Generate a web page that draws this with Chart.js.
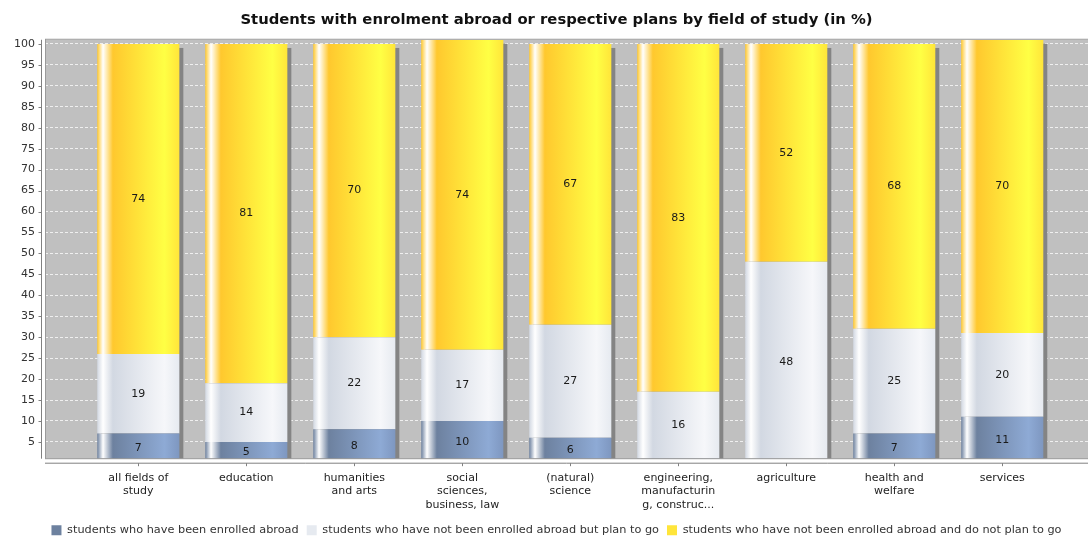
<!DOCTYPE html>
<html><head><meta charset="utf-8">
<script src="https://cdn.jsdelivr.net/npm/chart.js@4/dist/chart.umd.min.js"></script>
<style>html,body{margin:0;padding:0;background:#fff;overflow:hidden}#wrap{width:1088px;height:538px;position:relative}</style>
</head><body><div id="wrap"><canvas id="c"></canvas></div>
<script>
const chartTitle = 'Students with enrolment abroad or respective plans by field of study (in %)';
const categories = [
  ['all fields of','study'],
  ['education'],
  ['humanities','and arts'],
  ['social','sciences,','business, law'],
  ['(natural)','science'],
  ['engineering,','manufacturin','g, construc...'],
  ['agriculture'],
  ['health and','welfare'],
  ['services']
];
const seriesNames = [
  'students who have been enrolled abroad',
  'students who have not been enrolled abroad but plan to go',
  'students who have not been enrolled abroad and do not plan to go'
];
const enrolledAbroad = [7, 5, 8, 10, 6, 1, 0, 7, 11];
const planToGo       = [19, 14, 22, 17, 27, 16, 48, 25, 20];
const noPlanToGo     = [74, 81, 70, 74, 67, 83, 52, 68, 70];
const yTicks = [5,10,15,20,25,30,35,40,45,50,55,60,65,70,75,80,85,90,95,100];

const FONT = 'DejaVu Sans';
const BAR_FRAC = 0.76;
const palette = [
  {base:'#6d819f', bright:'#8eaad5', edge:'#7e97c0'},
  {base:'#d2d8e2', bright:'#f6f7fa', edge:'#e6eaf0'},
  {base:'#ffc82e', bright:'#ffff44', edge:'#ffe53a'}
];

function barGradient(idx){
  return function(ctx){
    const chart = ctx.chart;
    const xs = chart.scales && chart.scales.x;
    if (ctx.type !== 'data' || !xs || !chart.chartArea) return palette[idx].base;
    const cx = xs.getPixelForValue(ctx.dataIndex);
    const w = (xs.getPixelForValue(1) - xs.getPixelForValue(0)) * BAR_FRAC;
    const g = chart.ctx.createLinearGradient(cx - w/2, 0, cx + w/2, 0);
    const p = palette[idx];
    g.addColorStop(0, p.base);
    g.addColorStop(0.07, '#ffffff');
    g.addColorStop(0.19, p.base);
    g.addColorStop(0.82, p.bright);
    g.addColorStop(1, p.edge);
    return g;
  };
}

const seriesData = [enrolledAbroad, planToGo, noPlanToGo];
const datasets = seriesData.map((vals, k) => ({
  label: seriesNames[k],
  data: vals.map((v, i) => ({x: i, y: v})),
  backgroundColor: barGradient(k),
  borderWidth: 0,
  categoryPercentage: BAR_FRAC,
  barPercentage: 1.0
}));

const bgPlugin = {
  id: 'plotBg',
  beforeDraw(chart){
    const {ctx, chartArea: a} = chart;
    ctx.save();
    ctx.fillStyle = '#c0c0c0';
    ctx.fillRect(a.left, a.top, a.right - a.left, a.bottom - a.top);
    ctx.restore();
  }
};

const shadowPlugin = {
  id: 'shadows',
  beforeDatasetsDraw(chart){
    const {ctx, chartArea: a} = chart;
    const metas = chart.data.datasets.map((d, k) => chart.getDatasetMeta(k));
    ctx.save();
    ctx.beginPath();
    ctx.rect(a.left, a.top, a.right - a.left, a.bottom - a.top);
    ctx.clip();
    ctx.fillStyle = '#848484';
    for (let i = 0; i < categories.length; i++) {
      let top = Infinity, base = 0, x = 0, w = 0;
      metas.forEach(m => {
        const el = m.data[i];
        top = Math.min(top, el.y, el.base);
        base = Math.max(base, el.base);
        x = el.x; w = el.width;
      });
      ctx.fillRect(x - w/2 + 4, top + 4, w, base - top);
    }
    ctx.restore();
  }
};

const labelPlugin = {
  id: 'segLabels',
  afterDatasetsDraw(chart){
    const {ctx, chartArea: a} = chart;
    ctx.save();
    ctx.font = '11px "' + FONT + '"';
    ctx.fillStyle = '#1a1a1a';
    ctx.textAlign = 'center';
    ctx.textBaseline = 'middle';
    chart.data.datasets.forEach((d, k) => {
      const m = chart.getDatasetMeta(k);
      m.data.forEach((el, i) => {
        const v = seriesData[k][i];
        if (!v) return;
        const cy = (el.y + el.base) / 2;
        if (cy < a.top || cy > a.bottom) return;
        ctx.fillText(String(v), el.x, cy);
      });
    });
    ctx.restore();
  }
};

const axisPlugin = {
  id: 'axes',
  afterDraw(chart){
    const {ctx, chartArea: a, scales} = chart;
    ctx.save();
    ctx.strokeStyle = '#9a9a9a';
    ctx.lineWidth = 1;
    ctx.strokeRect(a.left + 0.5, a.top - 0.5, a.right - a.left, a.bottom - a.top + 0.5);
    ctx.strokeStyle = '#808080';
    ctx.beginPath();
    const ax = a.left - 3.5;
    ctx.moveTo(ax, a.top); ctx.lineTo(ax, a.bottom);
    yTicks.forEach(t => {
      const y = Math.round(scales.y.getPixelForValue(t)) + 0.5;
      ctx.moveTo(ax - 3, y); ctx.lineTo(ax, y);
    });
    const ay = a.bottom + 4.5;
    ctx.moveTo(a.left, ay); ctx.lineTo(a.right, ay);
    categories.forEach((c, i) => {
      const x = Math.round(scales.x.getPixelForValue(i)) + 0.5;
      ctx.moveTo(x, ay); ctx.lineTo(x, ay + 3);
    });
    ctx.stroke();
    ctx.restore();
  }
};

new Chart(document.getElementById('c'), {
  type: 'bar',
  data: {datasets},
  plugins: [bgPlugin, shadowPlugin, labelPlugin, axisPlugin],
  options: {
    responsive: true,
    maintainAspectRatio: false,
    animation: false,
    layout: {padding: {left: 0, right: -25, top: 0, bottom: -8}},
    plugins: {
      title: {
        display: true, text: chartTitle, color: '#111',
        font: {family: FONT, size: 14.8, weight: 'bold'},
        padding: {top: 11, bottom: 11}
      },
      legend: {
        position: 'bottom',
        labels: {
          boxWidth: 10, boxHeight: 10, padding: 8,
          color: '#333', font: {family: FONT, size: 11.3}
        }
      },
      tooltip: {enabled: false}
    },
    scales: {
      x: {
        type: 'linear', stacked: true, offset: false,
        min: -0.864, max: 8.794,
        afterBuildTicks(s){ s.ticks = categories.map((c, i) => ({value: i})); },
        afterFit(s){ s.height = 58; },
        grid: {display: false, drawTicks: false},
        border: {display: false},
        ticks: {
          autoSkip: false, maxRotation: 0, minRotation: 0, padding: 13,
          color: '#222', font: {family: FONT, size: 11, lineHeight: 1.2},
          callback: (v) => categories[v]
        }
      },
      y: {
        stacked: true, min: 1, max: 101,
        afterBuildTicks(s){ s.ticks = yTicks.map(v => ({value: v})); },
        afterFit(s){ s.width = 45; },
        grid: {color: 'rgba(255,255,255,0.75)', lineWidth: 1, drawTicks: false},
        border: {display: false, dash: [3,2]},
        ticks: {padding: 10, color: '#333', font: {family: FONT, size: 11}}
      }
    }
  }
});
</script>
</body></html>
